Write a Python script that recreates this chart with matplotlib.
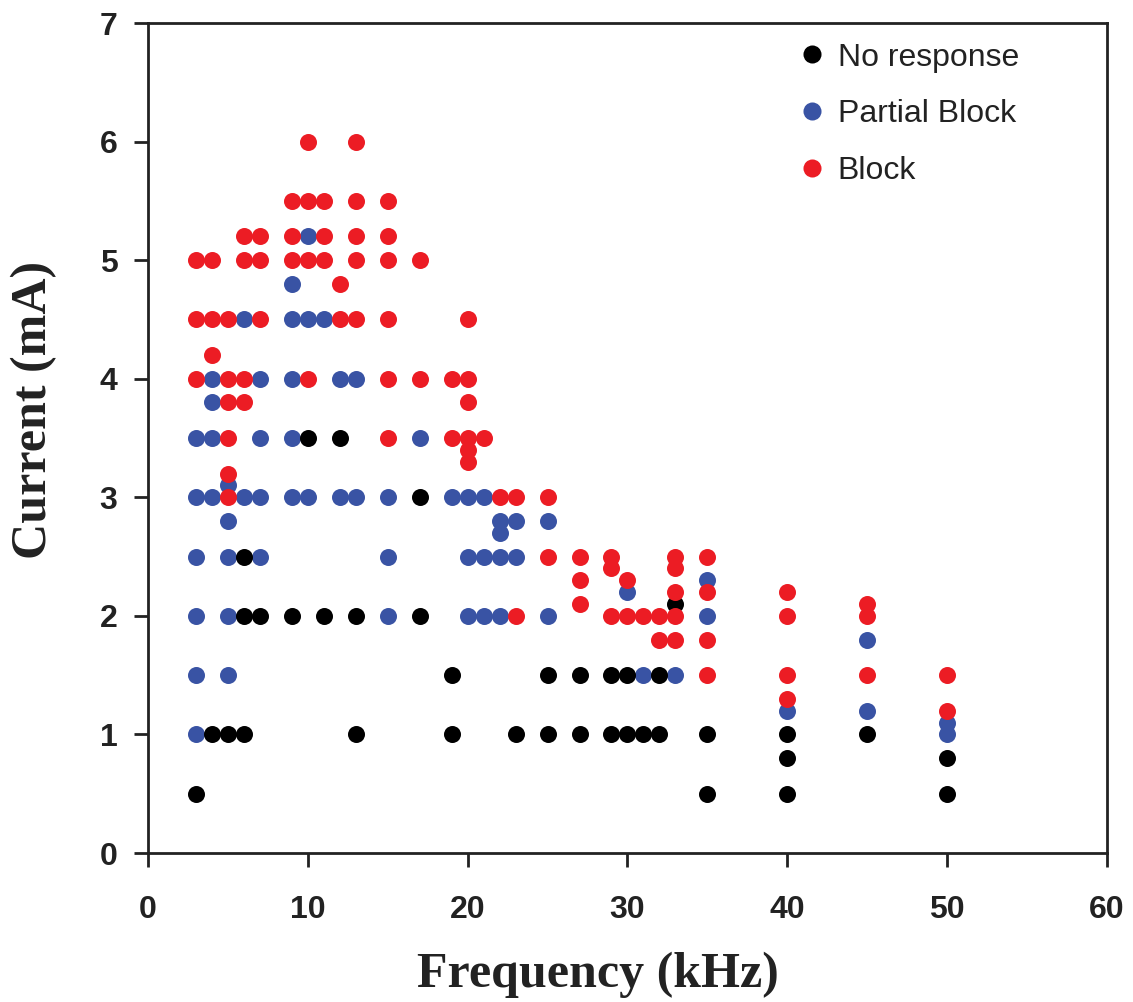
import matplotlib
matplotlib.use("Agg")
import matplotlib.pyplot as plt
from matplotlib.lines import Line2D

# stimulation outcomes: frequency (kHz) and current (mA) for each response class
none_freq = [3, 4, 5, 6, 6, 6, 7, 9, 11, 13, 17, 13, 19, 19, 10, 12, 17,
             23, 25, 25, 27, 27, 29, 29, 30, 30, 31, 32, 32, 33, 35, 35,
             40, 40, 40, 45, 50, 50]
none_curr = [0.5, 1, 1, 1, 2.5, 2, 2, 2, 2, 2, 2, 1, 1, 1.5, 3.5, 3.5, 3,
             1, 1, 1.5, 1, 1.5, 1, 1.5, 1, 1.5, 1, 1, 1.5, 2.1, 1, 0.5,
             1, 0.8, 0.5, 1, 0.8, 0.5]

partial_freq = [10, 9, 6, 9, 10, 11, 4, 7, 9, 12, 13, 4,
                3, 4, 7, 9, 17, 5,
                3, 4, 6, 7, 9, 10, 12, 13, 15, 19, 20, 21,
                5, 22, 23, 25, 22,
                3, 5, 7, 15, 20, 21, 22, 23,
                35, 30,
                3, 5, 15, 20, 21, 22, 25, 35,
                45, 3, 5, 31, 33, 40, 45, 50, 3, 50]
partial_curr = [5.2, 4.8, 4.5, 4.5, 4.5, 4.5, 4, 4, 4, 4, 4, 3.8,
                3.5, 3.5, 3.5, 3.5, 3.5, 3.1,
                3, 3, 3, 3, 3, 3, 3, 3, 3, 3, 3, 3,
                2.8, 2.8, 2.8, 2.8, 2.7,
                2.5, 2.5, 2.5, 2.5, 2.5, 2.5, 2.5, 2.5,
                2.3, 2.2,
                2, 2, 2, 2, 2, 2, 2, 2,
                1.8, 1.5, 1.5, 1.5, 1.5, 1.2, 1.2, 1.1, 1, 1]

block_freq = [10, 13,
              9, 10, 11, 13, 15,
              6, 7, 9, 11, 13, 15,
              3, 4, 6, 7, 9, 10, 11, 13, 15, 17,
              12,
              3, 4, 5, 7, 12, 13, 15, 20,
              4,
              3, 5, 6, 10, 15, 17, 19, 20,
              5, 6, 20,
              5, 15, 19, 20, 21,
              20, 20, 5,
              5, 22, 23, 25,
              25, 27, 29, 33, 35,
              29, 33, 27, 30,
              33, 35, 40, 27, 45,
              23, 29, 30, 31, 32, 33, 40, 45,
              32, 33, 35,
              35, 40, 45, 50,
              40, 50]
block_curr = [6, 6,
              5.5, 5.5, 5.5, 5.5, 5.5,
              5.2, 5.2, 5.2, 5.2, 5.2, 5.2,
              5, 5, 5, 5, 5, 5, 5, 5, 5, 5,
              4.8,
              4.5, 4.5, 4.5, 4.5, 4.5, 4.5, 4.5, 4.5,
              4.2,
              4, 4, 4, 4, 4, 4, 4, 4,
              3.8, 3.8, 3.8,
              3.5, 3.5, 3.5, 3.5, 3.5,
              3.4, 3.3, 3.2,
              3, 3, 3, 3,
              2.5, 2.5, 2.5, 2.5, 2.5,
              2.4, 2.4, 2.3, 2.3,
              2.2, 2.2, 2.2, 2.1, 2.1,
              2, 2, 2, 2, 2, 2, 2, 2,
              1.8, 1.8, 1.8,
              1.5, 1.5, 1.5, 1.5,
              1.3, 1.2]

labels = ["No response", "Partial Block", "Block"]
c_none, c_partial, c_block = "#000000", "#3953a4", "#ec1c24"
ink = "#222222"

fig = plt.figure(figsize=(11.33, 10.02), dpi=100)
ax = fig.add_axes([0.1306, 0.1487, 0.8464, 0.8283])

ms = 150
ax.scatter(partial_freq, partial_curr, s=ms, color=c_partial, linewidths=0, zorder=3)
ax.scatter(none_freq, none_curr, s=ms, color=c_none, linewidths=0, zorder=4)
ax.scatter(block_freq, block_curr, s=ms, color=c_block, linewidths=0, zorder=5)

ax.set_xlim(0, 60)
ax.set_ylim(0, 7)
ax.set_xticks(range(0, 61, 10))
ax.set_yticks(range(0, 8))

for sp in ax.spines.values():
    sp.set_linewidth(2.0)
    sp.set_color(ink)
ax.tick_params(direction="out", length=10, width=2.0, color=ink,
               labelsize=23, labelcolor=ink)
ax.tick_params(axis="x", pad=20)
ax.tick_params(axis="y", pad=12)
for lbl in ax.get_xticklabels() + ax.get_yticklabels():
    lbl.set_family("Liberation Sans")
    lbl.set_fontweight("bold")

# axis titles placed in figure coordinates so they stay inside the canvas
fig.text(598 / 1133, 15 / 1002, "Frequency (kHz)", ha="center", va="baseline",
         family="Liberation Serif", fontweight="bold", fontsize=36, color=ink)
fig.text(34 / 1133, 1 - 410 / 1002, "Current (mA)", ha="center", va="center",
         rotation=90, family="Liberation Serif", fontweight="bold",
         fontsize=36, color=ink)

handles = [Line2D([], [], linestyle="none", marker="o", markersize=13,
                  markerfacecolor=c, markeredgewidth=0)
           for c in (c_none, c_partial, c_block)]
leg = ax.legend(handles, labels, loc="upper left", bbox_to_anchor=(0.646, 1.011),
                frameon=False, handletextpad=0.3, labelspacing=0.83,
                handlelength=1.0, prop={"family": "Liberation Sans", "size": 23})
for t in leg.get_texts():
    t.set_color(ink)

fig.savefig("out.png", dpi=100)
